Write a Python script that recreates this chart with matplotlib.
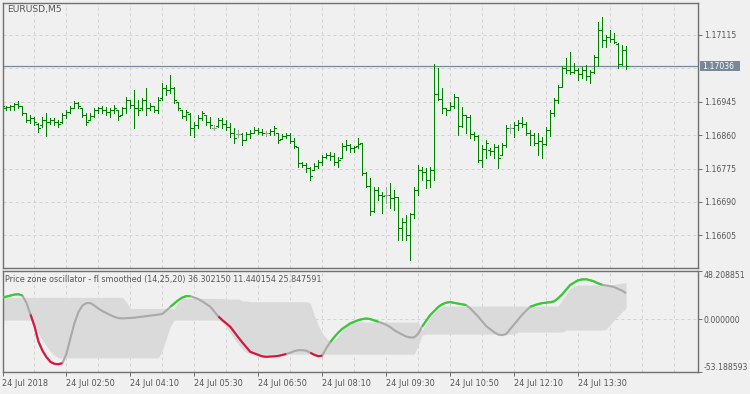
import matplotlib
matplotlib.use('Agg')
import matplotlib.pyplot as plt
import matplotlib.transforms as mtransforms
from matplotlib.patches import Rectangle
import numpy as np

# ---- price data (EURUSD M5), one entry per bar ----
HIGH = [1.16939, 1.16934, 1.16937, 1.16942, 1.16947, 1.16934, 1.16917, 1.16911, 1.16906, 1.16891,
        1.16906, 1.16917, 1.16904, 1.16904, 1.16899, 1.16917, 1.16924, 1.16934, 1.16947, 1.16945,
        1.16929, 1.16917, 1.16917, 1.16929, 1.16932, 1.16934, 1.16932, 1.16929, 1.16937, 1.16924,
        1.16932, 1.16957, 1.16950, 1.16975, 1.16950, 1.16955, 1.16980, 1.16942, 1.16934, 1.16957,
        1.16993, 1.16988, 1.17013, 1.16983, 1.16945, 1.16924, 1.16924, 1.16917, 1.16894, 1.16911,
        1.16922, 1.16911, 1.16906, 1.16886, 1.16904, 1.16904, 1.16899, 1.16891, 1.16878, 1.16873,
        1.16866, 1.16868, 1.16873, 1.16881, 1.16878, 1.16876, 1.16871, 1.16876, 1.16883, 1.16866,
        1.16863, 1.16866, 1.16866, 1.16853, 1.16830, 1.16792, 1.16789, 1.16779, 1.16789, 1.16797,
        1.16810, 1.16815, 1.16817, 1.16815, 1.16804, 1.16840, 1.16848, 1.16838, 1.16832, 1.16853,
        1.16840, 1.16766, 1.16751, 1.16728, 1.16728, 1.16715, 1.16728, 1.16738, 1.16720, 1.16700,
        1.16649, 1.16657, 1.16662, 1.16728, 1.16784, 1.16779, 1.16777, 1.16779, 1.17041, 1.17031,
        1.16980, 1.16929, 1.16945, 1.16965, 1.16957, 1.16932, 1.16911, 1.16911, 1.16868, 1.16860,
        1.16835, 1.16848, 1.16827, 1.16838, 1.16835, 1.16840, 1.16886, 1.16888, 1.16894, 1.16899,
        1.16906, 1.16894, 1.16873, 1.16866, 1.16866, 1.16855, 1.16881, 1.16924, 1.16955, 1.16988,
        1.17036, 1.17057, 1.17072, 1.17044, 1.17031, 1.17034, 1.17039, 1.17026, 1.17064, 1.17148,
        1.17161, 1.17115, 1.17128, 1.17120, 1.17095, 1.17090, 1.17087]
LOW = [1.16924, 1.16924, 1.16924, 1.16924, 1.16929, 1.16911, 1.16894, 1.16891, 1.16886, 1.16868,
       1.16881, 1.16858, 1.16888, 1.16886, 1.16881, 1.16891, 1.16904, 1.16917, 1.16929, 1.16929,
       1.16906, 1.16886, 1.16899, 1.16906, 1.16917, 1.16917, 1.16911, 1.16906, 1.16917, 1.16899,
       1.16911, 1.16917, 1.16929, 1.16878, 1.16911, 1.16924, 1.16911, 1.16924, 1.16919, 1.16917,
       1.16950, 1.16962, 1.16967, 1.16942, 1.16924, 1.16904, 1.16899, 1.16860, 1.16855, 1.16878,
       1.16899, 1.16886, 1.16878, 1.16873, 1.16881, 1.16878, 1.16873, 1.16855, 1.16840, 1.16855,
       1.16835, 1.16848, 1.16853, 1.16866, 1.16863, 1.16860, 1.16858, 1.16860, 1.16860, 1.16840,
       1.16850, 1.16853, 1.16840, 1.16827, 1.16779, 1.16779, 1.16766, 1.16746, 1.16771, 1.16777,
       1.16784, 1.16802, 1.16797, 1.16784, 1.16779, 1.16802, 1.16822, 1.16817, 1.16817, 1.16827,
       1.16759, 1.16728, 1.16657, 1.16664, 1.16695, 1.16662, 1.16688, 1.16675, 1.16670, 1.16593,
       1.16593, 1.16593, 1.16542, 1.16649, 1.16708, 1.16746, 1.16726, 1.16728, 1.16746, 1.16950,
       1.16917, 1.16911, 1.16924, 1.16929, 1.16860, 1.16881, 1.16866, 1.16853, 1.16848, 1.16792,
       1.16779, 1.16802, 1.16810, 1.16802, 1.16777, 1.16810, 1.16830, 1.16866, 1.16855, 1.16873,
       1.16881, 1.16860, 1.16835, 1.16835, 1.16810, 1.16802, 1.16835, 1.16858, 1.16909, 1.16942,
       1.16983, 1.17018, 1.17016, 1.17018, 1.17001, 1.17006, 1.17001, 1.16993, 1.17018, 1.17036,
       1.17085, 1.17085, 1.17097, 1.17095, 1.17031, 1.17039, 1.17029]
OPEN = [1.16929, 1.16929, 1.16932, 1.16934, 1.16939, 1.16934, 1.16917, 1.16899, 1.16904, 1.16888,
        1.16886, 1.16899, 1.16894, 1.16899, 1.16894, 1.16894, 1.16911, 1.16919, 1.16929, 1.16942,
        1.16929, 1.16911, 1.16899, 1.16909, 1.16924, 1.16929, 1.16924, 1.16919, 1.16924, 1.16924,
        1.16911, 1.16929, 1.16950, 1.16937, 1.16929, 1.16929, 1.16950, 1.16929, 1.16934, 1.16924,
        1.16955, 1.16980, 1.16975, 1.16980, 1.16945, 1.16924, 1.16909, 1.16914, 1.16878, 1.16886,
        1.16904, 1.16911, 1.16894, 1.16878, 1.16883, 1.16899, 1.16888, 1.16881, 1.16866, 1.16863,
        1.16863, 1.16848, 1.16863, 1.16866, 1.16873, 1.16868, 1.16866, 1.16866, 1.16871, 1.16866,
        1.16850, 1.16858, 1.16860, 1.16845, 1.16830, 1.16789, 1.16784, 1.16777, 1.16771, 1.16782,
        1.16792, 1.16804, 1.16810, 1.16807, 1.16792, 1.16802, 1.16832, 1.16835, 1.16827, 1.16832,
        1.16840, 1.16764, 1.16731, 1.16667, 1.16720, 1.16708, 1.16708, 1.16708, 1.16700, 1.16703,
        1.16624, 1.16639, 1.16606, 1.16659, 1.16720, 1.16771, 1.16766, 1.16746, 1.16771, 1.16965,
        1.16952, 1.16929, 1.16924, 1.16934, 1.16957, 1.16883, 1.16911, 1.16906, 1.16863, 1.16858,
        1.16797, 1.16825, 1.16822, 1.16820, 1.16830, 1.16810, 1.16835, 1.16878, 1.16878, 1.16886,
        1.16891, 1.16888, 1.16866, 1.16860, 1.16840, 1.16845, 1.16838, 1.16873, 1.16917, 1.16950,
        1.16983, 1.17031, 1.17026, 1.17021, 1.17026, 1.17016, 1.17026, 1.17011, 1.17021, 1.17059,
        1.17128, 1.17102, 1.17110, 1.17105, 1.17092, 1.17041, 1.17077]
CLOSE = [1.16934, 1.16932, 1.16934, 1.16939, 1.16934, 1.16917, 1.16899, 1.16904, 1.16894, 1.16878,
         1.16899, 1.16894, 1.16899, 1.16894, 1.16888, 1.16911, 1.16919, 1.16929, 1.16942, 1.16934,
         1.16911, 1.16894, 1.16909, 1.16924, 1.16929, 1.16924, 1.16919, 1.16924, 1.16929, 1.16909,
         1.16929, 1.16950, 1.16937, 1.16929, 1.16924, 1.16950, 1.16929, 1.16934, 1.16924, 1.16950,
         1.16980, 1.16975, 1.16980, 1.16950, 1.16929, 1.16909, 1.16919, 1.16878, 1.16886, 1.16904,
         1.16917, 1.16894, 1.16886, 1.16878, 1.16899, 1.16888, 1.16881, 1.16866, 1.16853, 1.16863,
         1.16848, 1.16863, 1.16866, 1.16873, 1.16868, 1.16866, 1.16866, 1.16871, 1.16878, 1.16848,
         1.16858, 1.16860, 1.16845, 1.16832, 1.16789, 1.16784, 1.16777, 1.16756, 1.16782, 1.16792,
         1.16804, 1.16810, 1.16807, 1.16792, 1.16797, 1.16832, 1.16835, 1.16827, 1.16830, 1.16838,
         1.16764, 1.16731, 1.16667, 1.16720, 1.16708, 1.16705, 1.16708, 1.16700, 1.16703, 1.16624,
         1.16639, 1.16606, 1.16659, 1.16720, 1.16771, 1.16766, 1.16746, 1.16771, 1.16965, 1.16952,
         1.16929, 1.16924, 1.16934, 1.16957, 1.16883, 1.16911, 1.16906, 1.16863, 1.16858, 1.16797,
         1.16825, 1.16840, 1.16820, 1.16830, 1.16802, 1.16835, 1.16878, 1.16878, 1.16886, 1.16891,
         1.16888, 1.16866, 1.16860, 1.16840, 1.16845, 1.16838, 1.16873, 1.16917, 1.16950, 1.16983,
         1.17031, 1.17026, 1.17021, 1.17026, 1.17016, 1.17026, 1.17011, 1.17021, 1.17059, 1.17128,
         1.17102, 1.17110, 1.17105, 1.17097, 1.17041, 1.17077, 1.17036]

BID_PRICE = 1.17036
GRID_PRICES = [1.16605, 1.16690, 1.16775, 1.16860, 1.16945, 1.17030, 1.17115]
LABEL_PRICES = [1.16605, 1.16690, 1.16775, 1.16860, 1.16945, 1.17115]

# ---- price zone oscillator ----
OSC = [21.4, 22.4, 23.4, 24.4, 24.7, 23.4, 15.9, 4.6, -7.1, -22.6,
       -31.6, -38.1, -42.8, -44.7, -45.1, -44.1, -34.6, -19.1, -4.1, 6.9,
       13.4, 15.9, 15.9, 13.4, 10.4, 7.9, 5.9, 3.9, 2.1, 0.9,
       0.6, 0.8, 1.1, 1.3, 1.9, 2.3, 2.9, 3.4, 3.9, 4.4,
       5.2, 8.4, 12.2, 15.6, 18.9, 21.4, 22.9, 22.7, 21.4, 19.9,
       17.6, 14.9, 12.2, 7.4, 2.6, -1.1, -4.4, -7.8, -13.1, -18.4,
       -23.4, -28.1, -32.8, -34.3, -35.8, -37.3, -37.7, -37.5, -37.2, -36.8,
       -35.9, -34.9, -33.7, -32.1, -31.1, -31.1, -31.6, -33.6, -35.7, -37.1,
       -36.6, -29.1, -23.1, -18.1, -13.6, -9.8, -7.1, -4.4, -2.8, -1.1,
       -0.1, 0.5, -0.1, -1.4, -2.6, -4.1, -5.8, -8.1, -11.1, -13.4,
       -15.4, -17.5, -18.4, -18.4, -14.6, -7.4, -1.7, 3.9, 7.9, 11.9,
       14.7, 16.3, 16.9, 16.1, 15.4, 14.7, 13.9, 10.6, 6.6, 2.4,
       -2.3, -7.1, -10.1, -13.1, -15.5, -16.1, -15.1, -10.1, -5.4, -0.6,
       4.3, 8.2, 12.2, 13.6, 14.9, 15.8, 16.3, 16.8, 17.6, 20.7,
       24.5, 29.2, 33.9, 36.3, 38.7, 39.5, 39.7, 38.7, 37.5, 35.6,
       34.2, 33.5, 32.8, 31.9, 30.1, 28.3, 25.8]
UPPER = [21.6, 21.6, 21.6, 21.6, 21.6, 21.6, 21.6, 21.6, 21.6, 21.6,
         21.6, 21.6, 21.6, 21.6, 21.6, 21.6, 21.6, 21.6, 21.6, 21.6,
         21.6, 21.6, 21.6, 21.6, 21.6, 21.6, 21.6, 21.6, 21.6, 21.6,
         21.6, 16.9, 10.6, 10.6, 10.6, 10.6, 10.6, 10.6, 10.6, 10.6,
         10.6, 10.6, 10.6, 10.6, 17.0, 20.6, 20.6, 20.6, 20.6, 20.6,
         20.6, 20.6, 20.6, 20.6, 20.6, 20.6, 20.0, 20.0, 20.0, 20.0,
         18.0, 18.0, 17.2, 17.2, 17.2, 17.2, 17.2, 17.2, 17.2, 17.2,
         17.2, 17.2, 17.2, 17.2, 17.2, 17.2, 17.2, 15.9, 3.9, -6.1,
         -14.1, -19.1, -23.1, -21.1, -16.1, -11.1, -7.1, -4.1, -3.1, -3.1,
         -3.1, -3.1, -3.1, -3.1, -3.1, -3.1, -3.1, -3.1, -3.1, -3.1,
         -3.1, -3.1, -3.1, -3.1, -3.1, -11.1, -5.1, 0.9, 5.9, 9.9,
         12.9, 12.9, 12.9, 12.9, 12.9, 12.9, 12.9, 12.9, 12.9, 12.9,
         12.9, 12.9, 12.9, 12.9, 12.9, 12.9, 12.9, 12.9, 12.9, 12.9,
         12.9, 12.9, 12.9, 12.9, 12.9, 12.9, 12.9, 12.9, 12.9, 12.9,
         18.9, 24.9, 29.9, 32.9, 33.9, 33.9, 33.9, 33.9, 33.9, 33.9,
         33.9, 33.9, 33.9, 34.4, 35.4, 35.9, 36.3]
LOWER = [-1.1, -1.1, -1.1, -1.1, -1.1, -1.1, -1.1, -1.1, -7.1, -14.1,
         -21.1, -27.1, -32.1, -36.1, -38.8, -38.8, -38.8, -38.8, -38.8, -38.8,
         -38.8, -38.8, -38.8, -38.8, -38.8, -38.8, -38.8, -38.8, -38.8, -38.8,
         -38.8, -38.8, -38.8, -38.8, -38.8, -38.8, -38.8, -38.8, -38.8, -38.8,
         -31.1, -19.1, -7.1, -1.1, -1.1, -1.1, -1.1, -1.1, -1.1, -1.1,
         -1.1, -1.1, -1.1, -1.1, -1.1, -3.1, -8.1, -14.1, -20.1, -25.1,
         -30.1, -33.1, -35.1, -35.1, -35.1, -35.1, -35.1, -35.1, -35.1, -35.1,
         -35.1, -35.1, -35.1, -35.1, -35.1, -35.1, -35.1, -35.1, -35.1, -35.1,
         -35.1, -35.1, -35.1, -35.1, -35.1, -35.1, -35.1, -35.1, -35.1, -35.1,
         -35.1, -35.1, -35.1, -35.1, -35.1, -35.1, -35.1, -35.1, -35.1, -35.1,
         -35.1, -35.1, -35.1, -35.1, -26.1, -16.1, -15.1, -15.1, -15.1, -15.1,
         -15.1, -15.1, -15.1, -15.1, -15.1, -15.1, -15.1, -15.1, -15.1, -15.1,
         -15.1, -15.1, -15.1, -15.1, -15.1, -15.1, -15.1, -15.1, -15.1, -13.1,
         -13.1, -13.1, -13.1, -13.1, -13.1, -13.1, -13.1, -13.1, -13.1, -13.1,
         -13.1, -11.1, -11.1, -11.1, -11.1, -11.1, -11.1, -11.1, -11.1, -11.1,
         -11.1, -10.1, -6.1, -1.1, 2.9, 6.9, 11.4]
# u = above zone (green), d = below zone (red), n = neutral
STATE = ('uuuuuu' + 'n' + 'ddddddddd' + 'n' * 26 + 'uuuuuu' + 'nnnnnn'
         + 'd' * 18 + 'nnnnn' + 'dddd' + 'n' + 'u' * 13 + 'n' * 10
         + 'u' * 12 + 'n' * 15 + 'u' * 19 + 'nnnnnn')

IND_MAX, IND_MIN = 48.208851, -53.188593
IND_TITLE = 'Price zone oscillator - fl smoothed (14,25,20) 36.302150 11.440154 25.847591'
TIME_LABELS = ['24 Jul 2018', '24 Jul 02:50', '24 Jul 04:10', '24 Jul 05:30', '24 Jul 06:50',
               '24 Jul 08:10', '24 Jul 09:30', '24 Jul 10:50', '24 Jul 12:10', '24 Jul 13:30']

BG = '#f0f0f0'
FG = '#555555'
BORDER = '#707070'
GRID = '#d2d2d2'
BAR = '#008000'
DOJI = '#a0a0a0'
BID = '#778899'
C_N, C_U, C_D = '#a9a9a9', '#32cd32', '#dc143c'
BAND = '#dadada'

W, H = 750, 394
fig = plt.figure(figsize=(W / 100, H / 100), dpi=100, facecolor=BG)


def px_axes(x0, y0, x1, y1):
    return fig.add_axes([x0 / W, 1 - y1 / H, (x1 - x0) / W, (y1 - y0) / H])


ax = px_axes(2.5, 2.5, 697.5, 268)
ax2 = px_axes(2.5, 270.7, 697.5, 372.3)
XMIN = 0.125
XMAX = XMIN + 695 / 4

for a in (ax, ax2):
    a.set_facecolor(BG)
    a.set_xlim(XMIN, XMAX)
    for s in a.spines.values():
        s.set_color(BORDER)
        s.set_linewidth(1.0)
    for j in range(8, 174, 8):
        a.axvline(j, color=GRID, lw=0.72, ls=(0, (3, 3)), zorder=0)
    a.yaxis.tick_right()

# ---- main price panel ----
ax.set_ylim(1.165217, 1.171977)
for p in GRID_PRICES:
    ax.axhline(p, color=GRID, lw=0.72, ls=(0, (3, 3)), zorder=0)
ax.axhline(BID_PRICE, color=BID, lw=0.9, zorder=1)

xs = np.arange(len(HIGH))
cols = [DOJI if o == c else BAR for o, c in zip(OPEN, CLOSE)]
ax.vlines(xs, LOW, HIGH, colors=cols, lw=0.72, antialiased=False, zorder=3)
ax.hlines(OPEN, xs - 0.4, xs, colors=cols, lw=0.72, antialiased=False, zorder=3)
ax.hlines(CLOSE, xs, xs + 0.4, colors=cols, lw=0.72, antialiased=False, zorder=3)

ax.set_xticks([])
ax.set_yticks(LABEL_PRICES)
ax.set_yticklabels([f'{p:.5f}' for p in LABEL_PRICES])
ax.tick_params(axis='y', length=3, width=0.72, color=BORDER, pad=1.5,
               labelsize=5.6, labelcolor=FG)

y_disp = ax.transData.transform((XMIN, BID_PRICE))[1]
fig.add_artist(Rectangle((700, y_disp - 4.8), 40, 9.6, transform=mtransforms.IdentityTransform(),
                         facecolor=BID, edgecolor='none'))
fig.text(702 / W, y_disp / H, f'{BID_PRICE:.5f}', color='white', fontsize=5.6, va='center', ha='left')

fig.text(7 / W, 1 - 9.5 / H, 'EURUSD,M5', color=FG, fontsize=6.6, va='center', ha='left')

# ---- oscillator panel ----
ax2.set_ylim(IND_MIN, IND_MAX)
ax2.axhline(0, color=GRID, lw=0.72, ls=(0, (3, 3)), zorder=0)
ax2.fill_between(xs, LOWER, UPPER, color=BAND, lw=0, zorder=1)
ax2.plot(xs, OSC, color=C_N, lw=1.5, zorder=3, solid_capstyle='butt')

i = 0
while i < len(STATE):
    k = i
    while k + 1 < len(STATE) and STATE[k + 1] == STATE[i]:
        k += 1
    if STATE[i] != 'n':
        c = C_U if STATE[i] == 'u' else C_D
        ax2.plot(xs[i:k + 1], OSC[i:k + 1], color=c, lw=1.5, zorder=4, solid_capstyle='butt')
    i = k + 1

ax2.set_xticks(xs[::16][:len(TIME_LABELS)])
ax2.set_xticklabels(TIME_LABELS, ha='left')
ax2.tick_params(axis='x', length=3, width=0.72, color=BORDER, pad=1.5,
                labelsize=5.9, labelcolor=FG)
ax2.set_yticks([IND_MIN, 0, IND_MAX])
ax2.set_yticklabels([f'{v:.6f}' for v in (IND_MIN, 0, IND_MAX)])
ax2.tick_params(axis='y', length=3, width=0.72, color=BORDER, pad=1.5,
                labelsize=5.6, labelcolor=FG)
tl = ax2.get_yticklabels()
tl[0].set_va('bottom')
tl[-1].set_va('top')

fig.text(5 / W, 1 - 279.5 / H, IND_TITLE, color=FG, fontsize=5.8, va='center', ha='left')

fig.savefig('out.png', dpi=100, facecolor=BG)
